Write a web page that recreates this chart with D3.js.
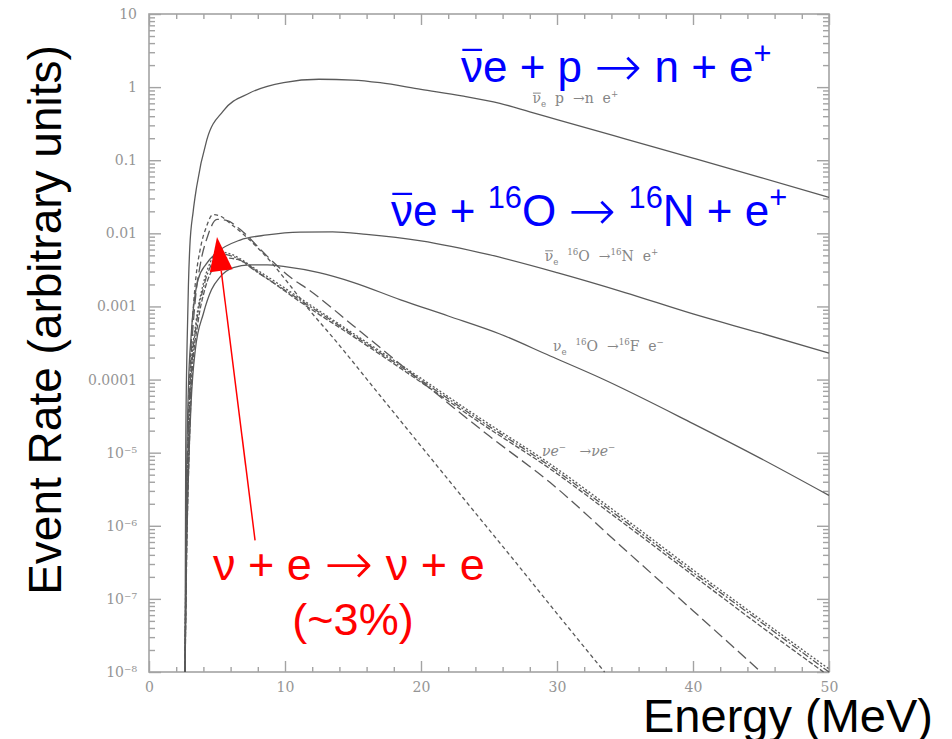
<!DOCTYPE html>
<html>
<head>
<meta charset="utf-8">
<script src="https://cdn.jsdelivr.net/npm/d3@7"></script>
<style>
  html, body { margin: 0; padding: 0; background: #fff; }
  svg { display: block; }
  text { white-space: pre; }
</style>
</head>
<body>
<div id="container"></div>
<script>
// energy (MeV), event rate (arbitrary units)
const nuebarP = [[2.65,1e-8],[2.7,1e-5],[2.8,3e-4],[2.9,2e-3],[3.0,0.0065],[3.25,0.02],[3.5,0.043],[4.25,0.19],[5.45,0.47],[7.4,0.83],[9.9,1.15],[12.5,1.28],[15,1.25],[17,1.15],[20,0.93],[23,0.76],[25.8,0.6],[28,0.46],[30,0.36],[35,0.196],[40,0.107],[45,0.058],[50,0.031]];
const nuebarO = [[2.65,1e-8],[2.75,3e-6],[2.9,8e-5],[3.1,4e-4],[3.6,0.0023],[4.2,0.0038],[5.0,0.0055],[6.7,0.0081],[8.7,0.0095],[11.1,0.0104],[13.5,0.0105],[16,0.0097],[20,0.0079],[25,0.0051],[30,0.0029],[35,0.00155],[40,0.00079],[45,0.00043],[50,0.00023]];
const nueO = [[2.65,1e-8],[2.75,3e-7],[2.9,5e-6],[3.1,5e-5],[3.4,2.5e-4],[4.0,8e-4],[4.6,0.0017],[5.2,0.0025],[6.2,0.0034],[7.4,0.0037],[8.7,0.0037],[10,0.0035],[12.5,0.0029],[15,0.00214],[18.5,0.00123],[22,0.00074],[25.8,0.00042],[29.5,0.00021],[33.2,0.000105],[40,2.5e-5],[45,8.3e-6],[50,2.6e-6]];
const elasticA = [[2.65,1e-8],[2.75,1e-6],[2.9,3e-5],[3.1,3e-4],[3.4,0.002],[3.8,0.0065],[4.2,0.012],[4.7,0.018],[5.3,0.017],[6,0.0135],[7,0.0095],[8,0.0063],[9,0.004],[9.9,0.0025],[11.8,0.00089],[13.5,0.00038],[17,6e-5],[20,1.23e-5],[23.1,2.4e-6],[27,3.1e-7],[30,6.3e-8],[33.5,1e-8]];
const elasticB = [[2.65,1e-8],[2.75,8e-7],[2.9,2e-5],[3.1,2e-4],[3.4,0.0012],[3.8,0.004],[4.3,0.009],[5.0,0.0155],[5.7,0.015],[6.9,0.0105],[8.4,0.0055],[10.4,0.0025],[11.8,0.00166],[15,0.00055],[20,9.5e-5],[25,1.7e-5],[29.5,3.9e-6],[35,4.7e-7],[40,6.9e-8],[45,1e-8]];
const elasticC = [[2.65,1e-8],[2.75,5e-7],[2.9,1e-5],[3.1,1e-4],[3.5,6e-4],[4.0,0.0018],[4.6,0.0038],[5.3,0.0052],[6.2,0.0048],[8,0.0029],[11.1,0.00123],[15,0.00041],[20,9.8e-5],[24.3,2.8e-5],[29.5,6.5e-6],[35,1.15e-6],[40,2.3e-7],[45,4.8e-8],[50,1e-8]];
const elasticD = [[2.65,1e-8],[2.78,5e-7],[2.95,1e-5],[3.15,1e-4],[3.6,6e-4],[4.1,0.0017],[4.8,0.0035],[5.6,0.0046],[6.5,0.0044],[8.3,0.0027],[11.1,0.00116],[15,0.00039],[20,9.2e-5],[24.3,2.6e-5],[29.5,6e-6],[35,1.05e-6],[40,2.1e-7],[45,4.2e-8],[49.6,1e-8]];
const elasticE = [[2.65,1e-8],[2.72,5e-7],[2.88,1e-5],[3.05,1e-4],[3.45,6e-4],[3.95,0.0019],[4.5,0.0040],[5.1,0.0056],[6.0,0.0052],[8,0.0031],[11.1,0.0013],[15,0.00043],[20,0.000104],[24.3,3e-5],[29.5,7e-6],[35,1.25e-6],[40,2.5e-7],[45,5.2e-8],[50,1.1e-8]];

const xTicks = [0, 10, 20, 30, 40, 50];
const yTicks = [10, 1, 0.1, 0.01, 0.001, 1e-4, 1e-5, 1e-6, 1e-7, 1e-8];
const yTickLabels = ["10", "1", "0.1", "0.01", "0.001", "0.0001", "10\u207B\u2075", "10\u207B\u2076", "10\u207B\u2077", "10\u207B\u2078"];

const w = 952;
const h = 739;
const padL = 149, padR = 829, padT = 14, padB = 672;
const frameColor = "#a3a3a3";
const curveColor = "#5a5a5a";

const x = d3.scaleLinear().domain([0, 50]).range([padL, padR]);
const y = d3.scaleLog().domain([1e-8, 10]).range([padB, padT]);

const svg = d3.select("#container")
  .append("svg")
  .attr("width", w)
  .attr("height", h);

// minor ticks
const xMinor = d3.range(0, 51, 2).filter(d => d % 10 !== 0);
const yMinor = [];
for (let k = -8; k < 1; k++) {
  for (let m = 2; m <= 9; m++) yMinor.push(m * Math.pow(10, k));
}

function styleAxis(g) {
  g.select(".domain").remove();
  g.selectAll(".tick line").attr("stroke", frameColor).attr("stroke-width", 1.4);
  g.selectAll(".tick text")
    .attr("fill", "#959595")
    .attr("font-family", "DejaVu Serif")
    .attr("font-size", 14);
}

svg.append("g").attr("transform", "translate(0," + padB + ")")
  .call(d3.axisBottom(x).tickValues(xTicks).tickSize(-11).tickPadding(10))
  .call(styleAxis);
svg.append("g").attr("transform", "translate(0," + padB + ")")
  .call(d3.axisBottom(x).tickValues(xMinor).tickSize(-5).tickFormat(""))
  .call(styleAxis);
svg.append("g").attr("transform", "translate(0," + padT + ")")
  .call(d3.axisTop(x).tickValues(xTicks).tickSize(-11).tickFormat(""))
  .call(styleAxis);
svg.append("g").attr("transform", "translate(0," + padT + ")")
  .call(d3.axisTop(x).tickValues(xMinor).tickSize(-5).tickFormat(""))
  .call(styleAxis);

svg.append("g").attr("transform", "translate(" + padL + ",0)")
  .call(d3.axisLeft(y).tickValues(yTicks).tickSize(-12).tickPadding(12)
    .tickFormat((d, i) => yTickLabels[i]))
  .call(styleAxis);
svg.append("g").attr("transform", "translate(" + padL + ",0)")
  .call(d3.axisLeft(y).tickValues(yMinor).tickSize(-6).tickFormat(""))
  .call(styleAxis);
svg.append("g").attr("transform", "translate(" + padR + ",0)")
  .call(d3.axisRight(y).tickValues(yTicks).tickSize(-12).tickFormat(""))
  .call(styleAxis);
svg.append("g").attr("transform", "translate(" + padR + ",0)")
  .call(d3.axisRight(y).tickValues(yMinor).tickSize(-6).tickFormat(""))
  .call(styleAxis);

svg.append("rect")
  .attr("x", padL).attr("y", padT)
  .attr("width", padR - padL).attr("height", padB - padT)
  .attr("fill", "none")
  .attr("stroke", frameColor)
  .attr("stroke-width", 1.6);

// curves
const series = [
  { data: nuebarP, dash: null },
  { data: nuebarO, dash: null },
  { data: nueO, dash: null },
  { data: elasticA, dash: "4,3" },
  { data: elasticB, dash: "11,5" },
  { data: elasticC, dash: "7,2,2,2" },
  { data: elasticD, dash: "5,2" },
  { data: elasticE, dash: "2,2" }
];

const line = d3.line()
  .x(d => x(d[0]))
  .y(d => y(d[1]))
  .curve(d3.curveMonotoneX);

svg.append("g")
  .selectAll("path")
  .data(series)
  .enter()
  .append("path")
  .attr("d", d => line(d.data))
  .attr("fill", "none")
  .attr("stroke", curveColor)
  .attr("stroke-width", 1.3)
  .attr("stroke-dasharray", d => d.dash);

// rich text helper: parts with sup / sub / overline / wide arrow
function rich(sel, parts, fs, opt) {
  opt = opt || {};
  const supScale = opt.supScale || 0.62;
  let shift = 0, idx = 0;
  const overs = [];
  parts.forEach(p => {
    let s = p.sup ? -0.42 * fs : (p.sub ? 0.25 * fs : 0);
    if (p.arrow) s = 0.08 * fs;
    const t = sel.append("tspan").text(p.t).attr("dy", s - shift);
    if (p.sup || p.sub) t.attr("font-size", fs * supScale);
    if (p.arrow) t.attr("font-family", "DejaVu Sans").attr("font-weight", 200).attr("font-size", fs * 1.3);
    if (p.over) overs.push(idx);
    idx += p.t.length;
    shift = s;
  });
  // overbar drawn as a thin line above the marked character
  const baseY = +sel.attr("y");
  overs.forEach(i => {
    const ext = sel.node().getExtentOfChar(i);
    svg.append("line")
      .attr("x1", ext.x + fs * 0.03).attr("x2", ext.x + ext.width - fs * 0.02)
      .attr("y1", baseY - fs * 0.73).attr("y2", baseY - fs * 0.73)
      .attr("stroke", sel.attr("fill"))
      .attr("stroke-width", Math.max(1, fs * 0.05));
  });
  return sel;
}

// small curve labels (in data coordinates)
const nb = "\u00A0";
const curveLabels = [
  { e: 28.2, r: 0.6, parts: [{t:"\u03BD", over:true},{t:"e", sub:true},{t:nb+nb+"p"+nb+nb+"\u2192n"+nb+nb+"e"},{t:"+", sup:true}] },
  { e: 29.1, r: 0.00418, parts: [{t:"\u03BD", over:true},{t:"e", sub:true},{t:nb+nb},{t:"16", sup:true},{t:"O"+nb+nb+"\u2192"},{t:"16", sup:true},{t:"N"+nb+nb+"e"},{t:"+", sup:true}] },
  { e: 29.7, r: 2.45e-4, parts: [{t:"\u03BD"},{t:"e", sub:true},{t:nb+nb},{t:"16", sup:true},{t:"O"+nb+nb+"\u2192"},{t:"16", sup:true},{t:"F"+nb+nb+"e"},{t:"\u2212", sup:true}] },
  { e: 28.9, r: 9e-6, italic: true, parts: [{t:"\u03BDe"},{t:"\u2212", sup:true},{t:nb+nb+nb+"\u2192\u03BDe"},{t:"\u2212", sup:true}] }
];
curveLabels.forEach(l => {
  const t = svg.append("text")
    .attr("x", x(l.e)).attr("y", y(l.r))
    .attr("font-family", "DejaVu Serif")
    .attr("font-style", l.italic ? "italic" : null)
    .attr("font-size", 14)
    .attr("fill", "#858585");
  rich(t, l.parts, 14);
});

// big annotations
const big = 44;
const blue = "#0000ff";
rich(svg.append("text").attr("x", 461).attr("y", 82)
  .attr("font-family", "Liberation Sans").attr("font-size", big).attr("fill", blue),
  [{t:"\u03BD", over:true},{t:"e + p "},{t:"\u2192", arrow:true},{t:" n + e"},{t:"+", sup:true}], big, {supScale: 0.7});
rich(svg.append("text").attr("x", 391).attr("y", 226)
  .attr("font-family", "Liberation Sans").attr("font-size", big).attr("fill", blue),
  [{t:"\u03BD", over:true},{t:"e + "},{t:"16", sup:true},{t:"O "},{t:"\u2192", arrow:true},{t:" "},{t:"16", sup:true},{t:"N + e"},{t:"+", sup:true}], big, {supScale: 0.7});

rich(svg.append("text").attr("x", 213).attr("y", 580)
  .attr("font-family", "Liberation Sans").attr("font-size", 45).attr("fill", "#ff0000"),
  [{t:"\u03BD + e "},{t:"\u2192", arrow:true},{t:" \u03BD + e"}], 45);
svg.append("text").attr("x", 353).attr("y", 635)
  .attr("text-anchor", "middle")
  .attr("font-family", "Liberation Sans").attr("font-size", 45).attr("fill", "#ff0000")
  .text("(~3%)");

// red arrow
const tail = [x(7.8), y(6.3e-7)];
const tip = [x(5.0), y(0.0089)];
const ang = Math.atan2(tip[1] - tail[1], tip[0] - tail[0]);
const headLen = 34, headHalf = 11.5;
const base = [tip[0] - headLen * Math.cos(ang), tip[1] - headLen * Math.sin(ang)];
svg.append("line")
  .attr("x1", tail[0]).attr("y1", tail[1])
  .attr("x2", base[0]).attr("y2", base[1])
  .attr("stroke", "#ff0000").attr("stroke-width", 1.5);
svg.append("path")
  .attr("d", "M" + tip + "L" + [base[0] + headHalf * Math.sin(ang), base[1] - headHalf * Math.cos(ang)] +
    "L" + [base[0] - headHalf * Math.sin(ang), base[1] + headHalf * Math.cos(ang)] + "Z")
  .attr("fill", "#ff0000");

// axis titles
svg.append("text")
  .attr("transform", "translate(61,320) rotate(-90)")
  .attr("text-anchor", "middle")
  .attr("font-family", "Liberation Sans")
  .attr("font-size", 46)
  .attr("fill", "#000")
  .text("Event Rate (arbitrary units)");
svg.append("text")
  .attr("x", 643).attr("y", 732)
  .attr("font-family", "Liberation Sans")
  .attr("font-size", 47)
  .attr("fill", "#000")
  .text("Energy (MeV)");
</script>
</body>
</html>
